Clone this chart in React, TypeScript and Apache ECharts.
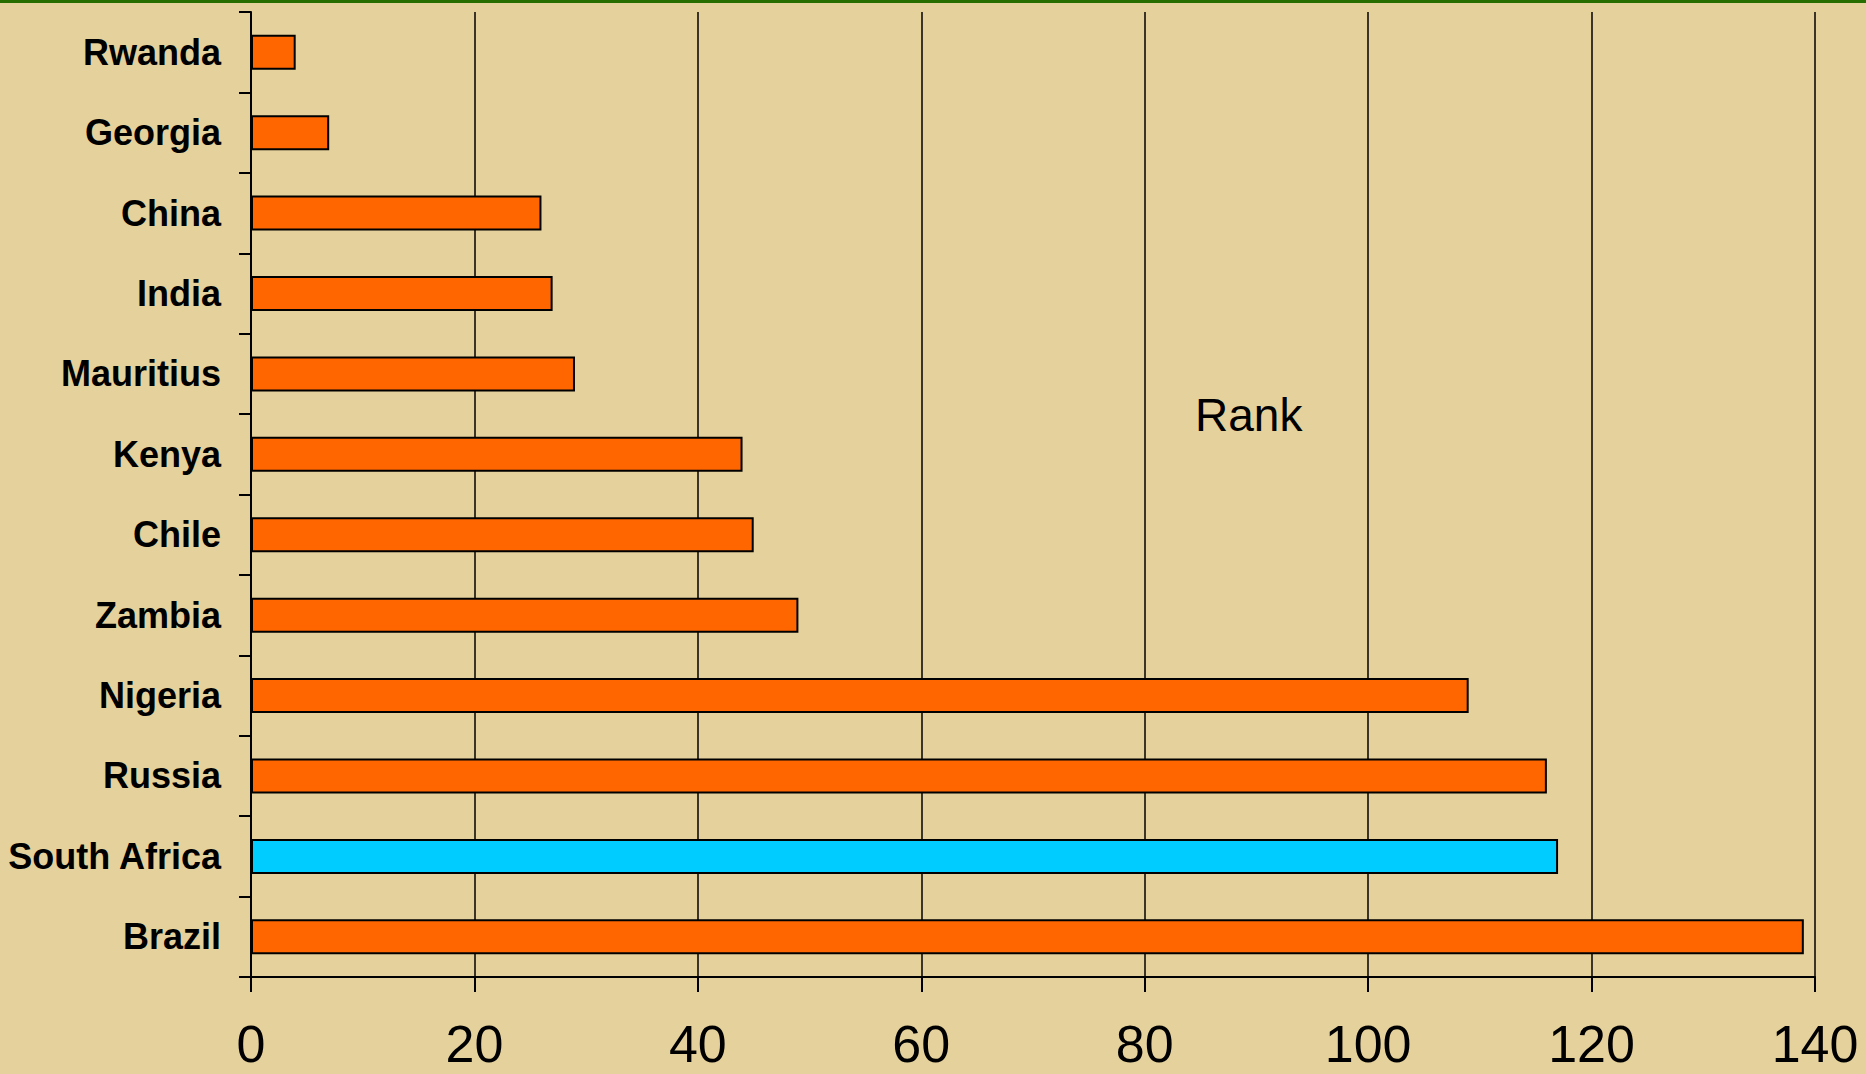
import React, { useEffect, useRef } from "react";
import * as echarts from "echarts";

const countries = [
  "Rwanda",
  "Georgia",
  "China",
  "India",
  "Mauritius",
  "Kenya",
  "Chile",
  "Zambia",
  "Nigeria",
  "Russia",
  "South Africa",
  "Brazil",
];
const rankValues = [4, 7, 26, 27, 29, 44, 45, 49, 109, 116, 117, 139];
const highlightCountry = "South Africa";
const xTicks = [0, 20, 40, 60, 80, 100, 120, 140];

export default function App() {
  const ref = useRef<HTMLDivElement>(null);
  useEffect(() => {
    if (!ref.current) return;
    const chart = echarts.init(ref.current, null, { renderer: "svg" });
    const option = {
      animation: false,
      backgroundColor: "#E5D19B",
      grid: { left: 251, right: 51, top: 12, bottom: 97, containLabel: false },
      xAxis: {
        type: "value",
        min: xTicks[0],
        max: xTicks[xTicks.length - 1],
        interval: 20,
        axisLine: { show: true, lineStyle: { color: "#000", width: 2 } },
        axisTick: { show: true, length: 15, lineStyle: { color: "#000", width: 2 } },
        axisLabel: {
          margin: 41,
          fontSize: 52,
          fontFamily: "'Liberation Sans Narrow', 'Liberation Sans', Arial, sans-serif",
          color: "#000",
        },
        splitLine: { show: true, lineStyle: { color: "#000", width: 1.5 } },
      },
      yAxis: {
        type: "category",
        data: countries,
        inverse: true,
        axisLine: { show: true, lineStyle: { color: "#000", width: 2 } },
        axisTick: { show: true, length: 12, lineStyle: { color: "#000", width: 2 } },
        axisLabel: {
          margin: 30,
          fontSize: 36,
          fontWeight: "bold",
          fontFamily: "'Liberation Sans', Arial, sans-serif",
          color: "#000",
        },
        splitLine: { show: false },
      },
      graphic: [
        {
          type: "rect",
          left: 0,
          top: 0,
          shape: { width: 1866, height: 3 },
          style: { fill: "#266E00" },
        },
        {
          type: "text",
          x: 1195,
          y: 415,
          style: {
            text: "Rank",
            fontSize: 46,
            fontFamily: "'Liberation Sans', Arial, sans-serif",
            fill: "#000",
            verticalAlign: "middle",
            align: "left",
          },
        },
      ],
      series: [
        {
          type: "bar",
          barWidth: 35,
          data: rankValues.map((v, i) => ({
            value: v,
            itemStyle: {
              color: countries[i] === highlightCountry ? "#00CCFF" : "#FF6600",
            },
          })),
          itemStyle: { borderColor: "#000", borderWidth: 2 },
        },
      ],
    };
    chart.setOption(option);
    return () => chart.dispose();
  }, []);
  return (
    <div
      ref={ref}
      style={{ position: "fixed", left: 0, top: 0, width: 1866, height: 1074 }}
    />
  );
}
